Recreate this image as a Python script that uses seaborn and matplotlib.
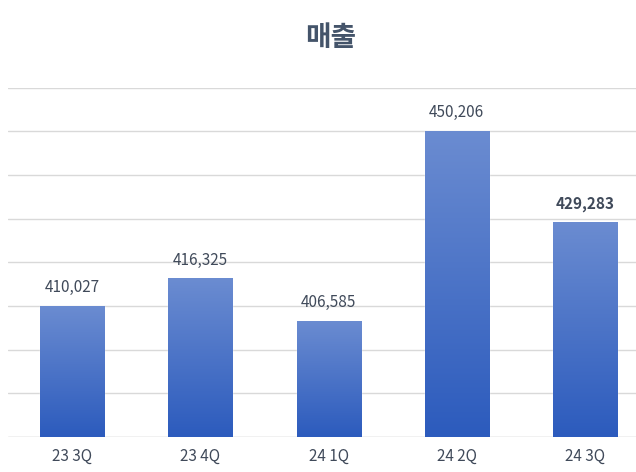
import matplotlib
matplotlib.use("Agg")
import matplotlib.pyplot as plt
import seaborn as sns
import numpy as np
import pandas as pd

categories = ["23 3Q", "23 4Q", "24 1Q", "24 2Q", "24 3Q"]
values = [410027, 416325, 406585, 450206, 429283]
labels = ["410,027", "416,325", "406,585", "450,206", "429,283"]

sns.set_theme(style="white")
plt.rcParams['font.family'] = ['Noto Sans CJK KR', 'DejaVu Sans']

fig = plt.figure(figsize=(6.36, 4.72), dpi=100)
ax = fig.add_axes([0.013, 0.074, 0.987, 0.74])
df = pd.DataFrame({"cat": categories, "val": values})
sns.barplot(data=df, x="cat", y="val", ax=ax, width=0.5, color="#4a72c8", zorder=2)
ax.set_ylim(380000, 460000)
ax.set_xlim(-0.5, 4.4)

grad = np.linspace(0, 1, 256).reshape(-1, 1)
from matplotlib.colors import LinearSegmentedColormap
cmap = LinearSegmentedColormap.from_list("g", ["#2c5bbd", "#6b8cd1"])
for p in list(ax.patches):
    x0, y0 = p.get_x(), p.get_y()
    w, h = p.get_width(), p.get_height()
    im = ax.imshow(grad, extent=[x0, x0 + w, 380000, y0 + h], origin="lower",
                   aspect="auto", cmap=cmap, zorder=3)
    im.set_clip_path(p)
ax.set_aspect("auto")
ax.set_xlim(-0.5, 4.4)
ax.set_ylim(380000, 460000)

for i, (v, l) in enumerate(zip(values, labels)):
    ax.text(i, v + 2200, l, ha="center", va="bottom", fontsize=11,
            color="#404a5a", fontweight="bold" if i == 4 else "normal")

ax.set_yticks(np.arange(380000, 460001, 10000))
ax.yaxis.grid(True, color="#d9d9d9", linewidth=1, zorder=0)
ax.set_yticklabels([])
ax.tick_params(axis="y", length=0)
ax.tick_params(axis="x", length=0, labelsize=11, labelcolor="#404a5a", pad=8)
ax.set_xlabel("")
ax.set_ylabel("")
for s in ax.spines.values():
    s.set_visible(False)
ax.axhline(380000, color="#d9d9d9", linewidth=1, zorder=1)
fig.text(0.52, 0.92, "매출", ha="center", va="center", fontsize=20,
         fontweight="bold", color="#44546a")
fig.savefig("out.png", dpi=100)
